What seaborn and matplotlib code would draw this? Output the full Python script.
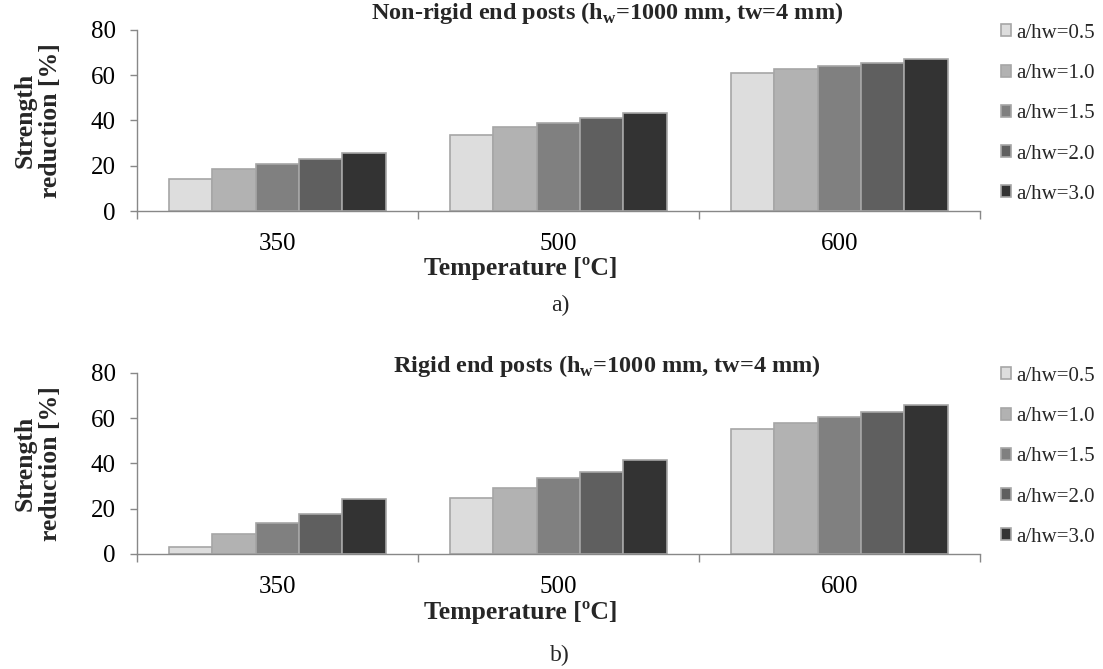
import numpy as np
import pandas as pd
import seaborn as sns
import matplotlib.pyplot as plt
from matplotlib.ticker import FixedLocator

# Temperatures and web-panel aspect ratios
temperatures = ["350", "500", "600"]
ratios = ["a/hw=0.5", "a/hw=1.0", "a/hw=1.5", "a/hw=2.0", "a/hw=3.0"]

# Strength reduction [%] per ratio, ordered by temperature
nonrigid_05 = [14.1, 33.6, 60.8]
nonrigid_10 = [18.4, 37.0, 62.9]
nonrigid_15 = [20.8, 38.9, 64.1]
nonrigid_20 = [23.1, 41.0, 65.4]
nonrigid_30 = [25.5, 43.2, 67.0]

rigid_05 = [3.1, 24.7, 55.0]
rigid_10 = [8.7, 29.0, 57.8]
rigid_15 = [13.8, 33.4, 60.5]
rigid_20 = [17.5, 36.0, 62.6]
rigid_30 = [24.1, 41.5, 66.0]

yticks = [0, 20, 40, 60, 80]
colors = ["#dddddd", "#b2b2b2", "#808080", "#5f5f5f", "#333333"]


def long_frame(series):
    rows = []
    for ratio, vals in zip(ratios, series):
        for t, v in zip(temperatures, vals):
            rows.append({"Temperature": t, "ratio": ratio, "value": v})
    return pd.DataFrame(rows)


panels = [
    dict(df=long_frame([nonrigid_05, nonrigid_10, nonrigid_15, nonrigid_20, nonrigid_30]),
         title="Non-rigid end posts (h$_\\mathregular{w}$=1000 mm, tw=4 mm)",
         tag="a)", rect=[136.7, 29.8, 980, 211], title_y=19, tag_y=305),
    dict(df=long_frame([rigid_05, rigid_10, rigid_15, rigid_20, rigid_30]),
         title="Rigid end posts (h$_\\mathregular{w}$=1000 mm, tw=4 mm)",
         tag="b)", rect=[136.7, 372.8, 980, 554], title_y=372, tag_y=655),
]

sns.set_theme(style="white")
plt.rcParams["font.family"] = ["Liberation Serif", "DejaVu Serif"]
plt.rcParams["mathtext.fontset"] = "custom"
plt.rcParams["mathtext.rm"] = "Liberation Serif"

W, H = 1103, 669
fig = plt.figure(figsize=(W / 100, H / 100), dpi=100)
axis_grey = "#888888"
edge_grey = "#a6a6a6"

for p in panels:
    x0, y0, x1, y1 = p["rect"]
    ax = fig.add_axes([x0 / W, 1 - y1 / H, (x1 - x0) / W, (y1 - y0) / H])
    sns.barplot(data=p["df"], x="Temperature", y="value", hue="ratio",
                order=temperatures, hue_order=ratios, palette=colors,
                saturation=1, width=0.771, gap=0, edgecolor=edge_grey,
                linewidth=1.2, errorbar=None, ax=ax, legend=True)
    ax.set_xlim(-0.5, 2.5)
    ax.set_ylim(0, 80)
    ax.set_yticks(yticks)
    ax.set_yticklabels([str(v) for v in yticks])
    for side in ["top", "right"]:
        ax.spines[side].set_visible(False)
    for side in ["left", "bottom"]:
        ax.spines[side].set_color(axis_grey)
        ax.spines[side].set_linewidth(1.0)
    ax.tick_params(axis="y", which="major", length=5, width=1.0, color=axis_grey,
                   labelsize=18, pad=10, labelcolor="black", left=True)
    ax.tick_params(axis="x", which="major", length=0, labelsize=18, pad=16,
                   labelcolor="black")
    ax.xaxis.set_minor_locator(FixedLocator([-0.5, 0.5, 1.5, 2.5]))
    ax.tick_params(axis="x", which="minor", length=6, width=1.0, color=axis_grey,
                   bottom=True)
    ax.set_xlabel("Temperature [ºC]", fontsize=18.5, fontweight="bold")
    # axis title sits a fixed distance below the plot area
    ax.xaxis.set_label_coords((521 - x0) / (x1 - x0), -58 / (y1 - y0))
    ax.xaxis.label.set_va("center")
    ax.set_ylabel("")

    handles, labels = ax.get_legend_handles_labels()
    ax.get_legend().remove()
    fig.legend(handles, labels, loc="upper left",
               bbox_to_anchor=(1001 / W, 1 - (y0 - 6) / H), frameon=False,
               fontsize=15, handlelength=0.5, handleheight=0.5,
               handletextpad=0.25, labelspacing=1.02, borderpad=0,
               borderaxespad=0)

    fig.text(607 / W, 1 - p["title_y"] / H, p["title"], ha="center",
             va="baseline", fontsize=17.5, fontweight="bold")
    fig.text(38 / W, 1 - ((y0 + y1) / 2) / H, "Strength\nreduction [%]",
             rotation=90, ha="center", va="center", fontsize=18.5,
             fontweight="bold", linespacing=1.1)
    fig.text(560 / W, 1 - p["tag_y"] / H, p["tag"], ha="center", va="center",
             fontsize=17)

fig.savefig("out.png", dpi=100, facecolor="white")
